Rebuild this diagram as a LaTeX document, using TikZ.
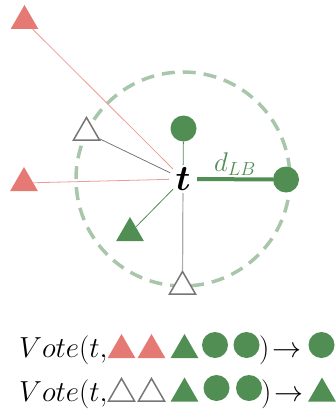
\documentclass[tikz,border=0pt]{standalone}
\usepackage{fix-cm}
\usepackage{bm}
\usetikzlibrary{shapes.geometric}
\definecolor{votegreen}{RGB}{80,142,84}
\definecolor{votered}{RGB}{229,122,117}
\definecolor{votegray}{RGB}{118,118,118}
\tikzset{
  tri/.style={regular polygon, regular polygon sides=3, minimum size=32pt, inner sep=0pt},
  redtri/.style={tri, fill=votered},
  greentri/.style={tri, fill=votegreen},
  opentri/.style={tri, minimum size=30pt, draw=votegray, line width=1.5pt, fill=white},
  dot/.style={circle, minimum size=26pt, inner sep=0pt, fill=votegreen},
  votetext/.style={inner sep=0pt, anchor=base west, font=\fontsize{29}{34}\selectfont},
}
\begin{document}
\begin{tikzpicture}[x=1pt, y=-1pt]
        \useasboundingbox (0,0) rectangle (335,412);
        % neighbourhood of t
        \draw[votegreen!50, line width=3.5pt, dash pattern=on 13pt off 8pt] (183,179) circle (107);
        \node[circle, minimum size=28pt, inner sep=0pt, font=\fontsize{36}{40}\selectfont] (t) at (183,179) {$\bm{t}$};
        \node[redtri] (far) at (24.5,21) {};
        \node[redtri] (redleft) at (24,183) {};
        \node[opentri] (opentop) at (86.5,132.5) {};
        \node[dot] (topdot) at (183.5,128.5) {};
        \node[dot] (lbdot) at (286,179.5) {};
        \node[greentri] (near) at (130,233) {};
        \node[opentri] (openbot) at (182.5,286.5) {};
        \draw[votered!75, line width=0.8pt] (far) -- (t);
        \draw[votered!75, line width=0.8pt] (redleft) -- (t);
        \draw[votegray, line width=0.8pt] (opentop) -- (t);
        \draw[votegreen, line width=0.8pt] (topdot) -- (t);
        \draw[votegreen, line width=0.8pt] (near) -- (t);
        \draw[votegray!60, line width=1.2pt] (openbot) -- (t);
        \draw[votegreen, line width=4pt] (t) -- node[above=1pt, inner sep=1pt, text=votegreen, font=\fontsize{27}{30}\selectfont] (dlb) {$d_{LB}$} (lbdot);
        % votes
        \node[votetext] (vote1) at (19,357) {$Vote\bigl(t,$};
        \node[redtri] (r1a) at (121.5,350) {};
        \node[redtri] (r1b) at (151.5,350) {};
        \node[greentri] (g1) at (184.5,350) {};
        \node[dot] (d1a) at (215,345) {};
        \node[dot] (d1b) at (246.5,345) {};
        \node[votetext] (res1) at (259,357) {$\bigr)\!\rightarrow$};
        \node[dot] (out1) at (321.5,345) {};
        \node[votetext] (vote2) at (19,401) {$Vote\bigl(t,$};
        \node[opentri] (o2a) at (121.5,393.5) {};
        \node[opentri] (o2b) at (151.5,393.5) {};
        \node[greentri] (g2) at (184.5,393.5) {};
        \node[dot] (d2a) at (216.5,388) {};
        \node[dot] (d2b) at (249,388) {};
        \node[votetext] (res2) at (261,401) {$\bigr)\!\rightarrow$};
        \node[greentri] (out2) at (322,393.5) {};
    \end{tikzpicture}
\end{document}
